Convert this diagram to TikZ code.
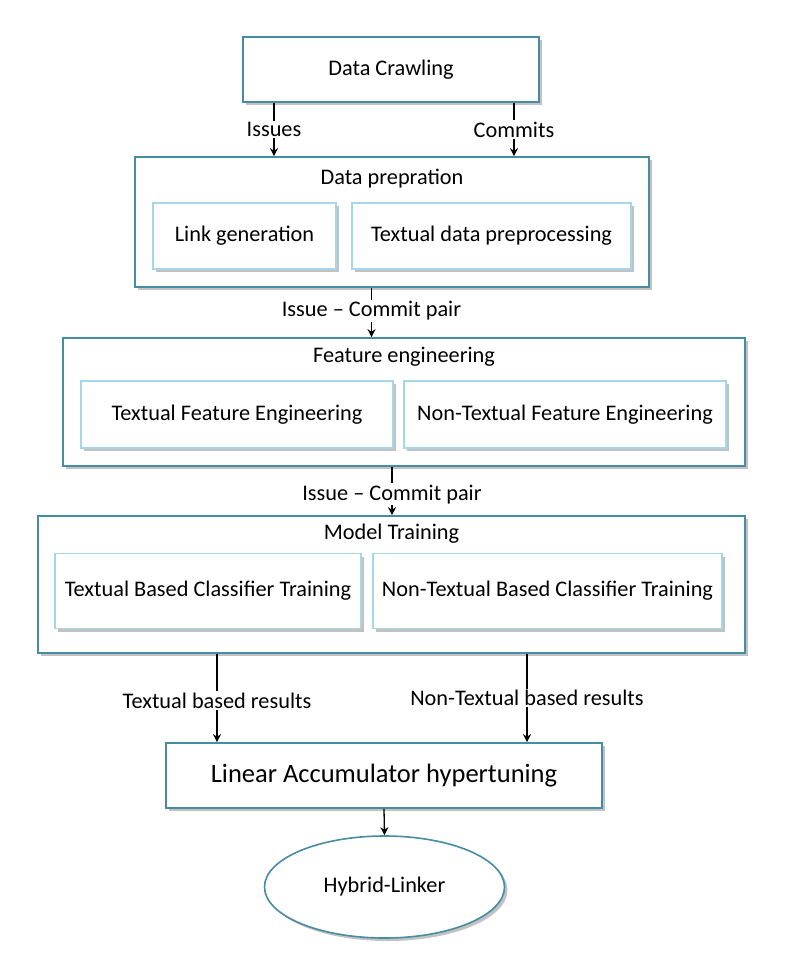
\documentclass[tikz,border=0pt]{standalone}
\usepackage{fontspec}
\setmainfont{Carlito}
\usetikzlibrary{shapes.geometric,shadows,arrows.meta}
\definecolor{outerc}{RGB}{70,140,165}
\definecolor{innerc}{RGB}{165,215,232}
\begin{document}
\begin{tikzpicture}[x=1pt,y=-1pt,
  font=\fontsize{22.3}{27}\selectfont,
  shad/.style={drop shadow={shadow xshift=3pt,shadow yshift=-3pt,opacity=0.4,fill=black!60}},
  outerbox/.style={draw=outerc,line width=1.6pt,fill=white,shad,rectangle,inner sep=0pt},
  innerbox/.style={draw=innerc,line width=1.6pt,fill=white,shad,rectangle,inner sep=0pt},
  title/.style={inner sep=0pt},
  lbl/.style={fill=white,inner sep=1.5pt},
  arr/.style={draw=black,line width=1.3pt,-{Stealth[length=8pt,width=8pt]}},
]
\useasboundingbox (0,0) rectangle (789,977);

% boxes
\node[outerbox,minimum width=296pt,minimum height=65pt] (DC) at (391,69.5) {Data Crawling};

\node[outerbox,minimum width=514pt,minimum height=130pt] (DP) at (392,222) {};
\node[title] (DPt) at (392,179) {Data prepration};
\node[innerbox,minimum width=183pt,minimum height=66pt] (LG) at (244.5,236) {Link generation};
\node[innerbox,minimum width=279pt,minimum height=66pt] (TD) at (491.5,236) {Textual data preprocessing};

\node[outerbox,minimum width=682pt,minimum height=128pt] (FE) at (404,402) {};
\node[title] (FEt) at (404,357) {Feature engineering};
\node[innerbox,minimum width=312pt,minimum height=67pt] (TFE) at (237,414.5) {Textual Feature Engineering};
\node[innerbox,minimum width=322pt,minimum height=67pt] (NTFE) at (565,414.5) {Non-Textual Feature Engineering};

\node[outerbox,minimum width=707pt,minimum height=137pt] (MT) at (391.5,584.5) {};
\node[title] (MTt) at (391.5,534) {Model Training};
\node[innerbox,minimum width=306pt,minimum height=75pt] (TBC) at (208,591) {Textual Based Classifier Training};
\node[innerbox,minimum width=349pt,minimum height=75pt] (NTBC) at (547.5,591) {Non-Textual Based Classifier Training};

\node[outerbox,minimum width=436pt,minimum height=65pt,font=\fontsize{26.5}{31}\selectfont] (LA) at (384,775.5) {Linear Accumulator hypertuning};

\node[draw=outerc,line width=1.6pt,fill=white,shad,ellipse,inner sep=0pt,minimum width=240pt,minimum height=102pt] (HL) at (384.5,887) {Hybrid-Linker};

% connector x positions
\coordinate (xI) at (274,0);
\coordinate (xC) at (514,0);
\coordinate (xP1) at (371.5,0);
\coordinate (xP2) at (392,0);
\coordinate (xT) at (217,0);
\coordinate (xN) at (527,0);
\coordinate (xL) at (384,0);

\draw[arr] (xI |- DC.south) -- node[lbl] {Issues} (xI |- DP.north);
\draw[arr] (xC |- DC.south) -- node[lbl] {Commits} (xC |- DP.north);
\draw[arr] (xP1 |- DP.south) -- node[lbl,pos=0.47] {Issue – Commit pair} (xP1 |- FE.north);
\draw[arr] (xP2 |- FE.south) -- node[lbl,pos=0.57] {Issue – Commit pair} (xP2 |- MT.north);
\draw[arr] (xT |- MT.south) -- node[lbl,pos=0.53] {Textual based results} (xT |- LA.north);
\draw[arr] (xN |- MT.south) -- node[lbl,pos=0.5] {Non-Textual based results} (xN |- LA.north);
\draw[arr] (LA.south) -- (HL.north);
\end{tikzpicture}
\end{document}
